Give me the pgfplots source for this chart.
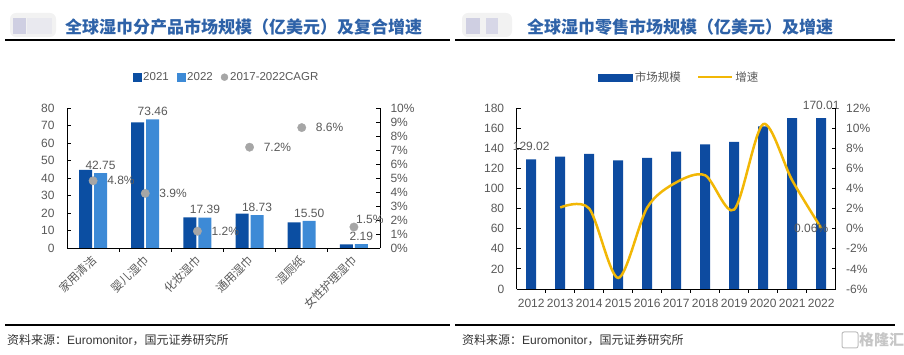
\documentclass[border=0pt]{standalone}
\usepackage{pgfplots}
\pgfplotsset{compat=1.18}
\usepackage{fontspec}
\setmainfont{Liberation Sans}
\newfontfamily\cjk{Noto Sans CJK SC}
\definecolor{cA}{HTML}{0B4EA2}
\definecolor{cB}{HTML}{3D8AD6}
\definecolor{cR}{HTML}{0D4BA0}
\definecolor{cY}{HTML}{F2B705}
\definecolor{cG}{HTML}{A6A6A6}
\definecolor{tx}{HTML}{595959}
\definecolor{tt}{HTML}{2E62A8}
\pgfplotsset{
  base/.style={scale only axis, clip=false,
    /pgf/number format/assume math mode=true,
    tick align=inside, major tick length=4pt, minor tick length=4pt,
    axis line style={line width=0.8pt, black},
    every tick/.style={black, line width=0.8pt},
    ticklabel style={font=\fontsize{12}{12}\selectfont, text=tx},
  },
}
\begin{document}
\begin{tikzpicture}[x=1pt,y=1pt]
\path[use as bounding box] (0pt,0pt) rectangle (904pt,355pt);
% logos (blurred)
\fill[rounded corners=6pt, fill=black!5] (10,318) rectangle (56,342);
\fill[fill=blue!25!gray!30] (13,321) rectangle (26,337);
\fill[fill=blue!15!gray!15] (27,321) rectangle (52,337);
\fill[rounded corners=6pt, fill=black!5] (462,318) rectangle (512,342);
\fill[fill=blue!25!gray!30] (466,321) rectangle (480,337);
\fill[fill=blue!25!gray!25] (486,321) rectangle (498,337);
% titles
\node[anchor=west, text=tt, font=\cjk\bfseries\fontsize{17}{17}\selectfont, inner sep=0] at (65pt,328pt) {全球湿巾分产品市场规模（亿美元）及复合增速};
\node[anchor=west, text=tt, font=\cjk\bfseries\fontsize{17}{17}\selectfont, inner sep=0] at (527pt,328pt) {全球湿巾零售市场规模（亿美元）及增速};
\draw[line width=1.5pt] (5pt,315pt) -- (450pt,315pt);
\draw[line width=1.5pt] (455pt,315pt) -- (895pt,315pt);
\draw[line width=1.2pt] (5pt,30pt) -- (450pt,30pt);
\draw[line width=1.2pt] (455pt,30pt) -- (895pt,30pt);
\node[anchor=west, inner sep=0, text=black!80, font=\fontsize{12}{12}\selectfont] at (7pt,15pt) {{\cjk 资料来源：}Euromonitor{\cjk ，国元证券研究所}};
\node[anchor=west, inner sep=0, text=black!80, font=\fontsize{12}{12}\selectfont] at (462pt,15pt) {{\cjk 资料来源：}Euromonitor{\cjk ，国元证券研究所}};
\draw[gray!50, line width=1pt, rounded corners=2pt] (842pt,7pt) rectangle (858pt,23pt);
\node[anchor=west, inner sep=0, text=gray!45, font=\cjk\bfseries\fontsize{15}{15}\selectfont] at (859pt,15pt) {格隆汇};

% ---------- left chart: bars ----------
\begin{axis}[base, at={(67pt,107pt)}, anchor=south west, width=313pt, height=140pt,
  xmin=-0.5, xmax=5.5, ymin=0, ymax=80, ytick={0,10,...,80},
  axis x line*=bottom, axis y line*=left,
  ybar=2pt, bar width=13pt,
  xtick={0,...,5},
  xticklabels={家用清洁,婴儿湿巾,化妆湿巾,通用湿巾,湿厕纸,女性护理湿巾},
  major x tick style={draw=none},
  minor xtick={0.5,1.5,2.5,3.5,4.5},
  xticklabel style={font=\cjk\fontsize{11.5}{11.5}\selectfont, text=tx, rotate=45, anchor=east, yshift=-5pt},
  yticklabel style={xshift=-9pt},
]
\addplot[fill=cA, draw=none] coordinates {(0,44.7)(1,71.8)(2,17.5)(3,19.6)(4,14.7)(5,2.1)};
\addplot[fill=cB, draw=none, nodes near coords,
  nodes near coords style={font=\fontsize{12}{12}\selectfont, text=tx, /pgf/number format/.cd, fixed, fixed zerofill, precision=2}]
  coordinates {(0,42.75)(1,73.46)(2,17.39)(3,18.73)(4,15.50)(5,2.19)};
\end{axis}
% ---------- left chart: CAGR ----------
\begin{axis}[base, at={(67pt,107pt)}, anchor=south west, width=313pt, height=140pt,
  xmin=-0.5, xmax=5.5, ymin=0, ymax=10, ytick={0,...,10},
  yticklabels={0\%,1\%,2\%,3\%,4\%,5\%,6\%,7\%,8\%,9\%,10\%},
  axis y line*=right, axis x line=none,
  yticklabel style={xshift=7pt},
  legend columns=3,
  legend style={draw=none, fill=none, at={(0.51,1.22)}, anchor=center,
    font=\fontsize{11.5}{11.5}\selectfont, text=tx,
    /tikz/every even column/.append style={column sep=6pt}},
]
\addlegendimage{legend image code/.code={\fill[cA] (6pt,-4pt) rectangle (14pt,4pt);}}
\addlegendentry{2021}
\addlegendimage{legend image code/.code={\fill[cB] (6pt,-4pt) rectangle (14pt,4pt);}}
\addlegendentry{2022}
\addplot[only marks, mark=*, mark size=4.2pt, color=cG,
  legend image code/.code={\fill[cG] (10pt,0pt) circle (3.5pt);},
  nodes near coords={\pgfmathprintnumber[fixed, fixed zerofill, precision=1]{\pgfplotspointmeta}\%},
  nodes near coords style={font=\fontsize{12}{12}\selectfont, text=tx, anchor=west, xshift=14pt, inner sep=0pt}]
  coordinates {(0,4.8)(1,3.9)(2,1.2)(3,7.2)(4,8.6)};
\addlegendentry{2017-2022CAGR}
\addplot[only marks, mark=*, mark size=4.2pt, color=cG, forget plot,
  nodes near coords={\pgfmathprintnumber[fixed, fixed zerofill, precision=1]{\pgfplotspointmeta}\%},
  nodes near coords style={font=\fontsize{12}{12}\selectfont, text=tx, anchor=south west, xshift=2pt, yshift=3pt, inner sep=0pt}]
  coordinates {(5,1.5)};
\end{axis}

% ---------- right chart: bars ----------
\begin{axis}[base, at={(516.7pt,66pt)}, anchor=south west, width=319pt, height=181pt,
  xmin=-0.5, xmax=10.5, ymin=0, ymax=180, ytick={0,20,...,180},
  axis x line*=bottom, axis y line*=left,
  ybar, bar width=10pt,
  xtick={0,...,10},
  xticklabels={2012,2013,2014,2015,2016,2017,2018,2019,2020,2021,2022},
  major x tick style={draw=none},
  minor xtick={0.5,1.5,...,9.5},
  xticklabel style={yshift=-3pt},
  yticklabel style={xshift=-9pt},
]
\addplot[fill=cR, draw=none] coordinates {(0,129.02)(1,131.7)(2,134.4)(3,127.8)(4,130.5)(5,136.5)(6,143.7)(7,146.4)(8,161.6)(9,169.9)(10,170.01)};
\node[anchor=south, font=\fontsize{12}{12}\selectfont, text=tx, inner sep=0pt, yshift=8pt] at (axis cs:0,129.02) {129.02};
\node[anchor=south, font=\fontsize{12}{12}\selectfont, text=tx, inner sep=0pt, yshift=8pt] at (axis cs:10,170.01) {170.01};
\end{axis}
% ---------- right chart: growth ----------
\begin{axis}[base, at={(516.7pt,66pt)}, anchor=south west, width=319pt, height=181pt,
  xmin=-0.5, xmax=10.5, ymin=-6, ymax=12, ytick={-6,-4,...,12},
  yticklabels={-6\%,-4\%,-2\%,0\%,2\%,4\%,6\%,8\%,10\%,12\%},
  axis y line*=right, axis x line=none,
  yticklabel style={xshift=7pt},
  legend columns=2,
  legend style={draw=none, fill=none, at={(0.51,1.17)}, anchor=center,
    font=\cjk\fontsize{11.5}{11.5}\selectfont, text=tx,
    /tikz/every even column/.append style={column sep=14pt}},
]
\addlegendimage{legend image code/.code={\fill[cR] (-14pt,-3.5pt) rectangle (20pt,3.5pt);}}
\addlegendentry{市场规模}
\addplot[cY, line width=2.5pt, smooth,
  legend image code/.code={\draw[cY, line width=2.5pt] (-14pt,0pt) -- (20pt,0pt);}]
  coordinates {(1,2.1)(2,2.0)(3,-4.9)(4,2.1)(5,4.6)(6,5.3)(7,1.9)(8,10.4)(9,4.8)(10,0.06)};
\addlegendentry{增速}
\node[font=\fontsize{12}{12}\selectfont, text=tx, inner sep=0pt, xshift=-10pt] at (axis cs:10,0.06) {0.06\%};
\end{axis}
\end{tikzpicture}
\end{document}
